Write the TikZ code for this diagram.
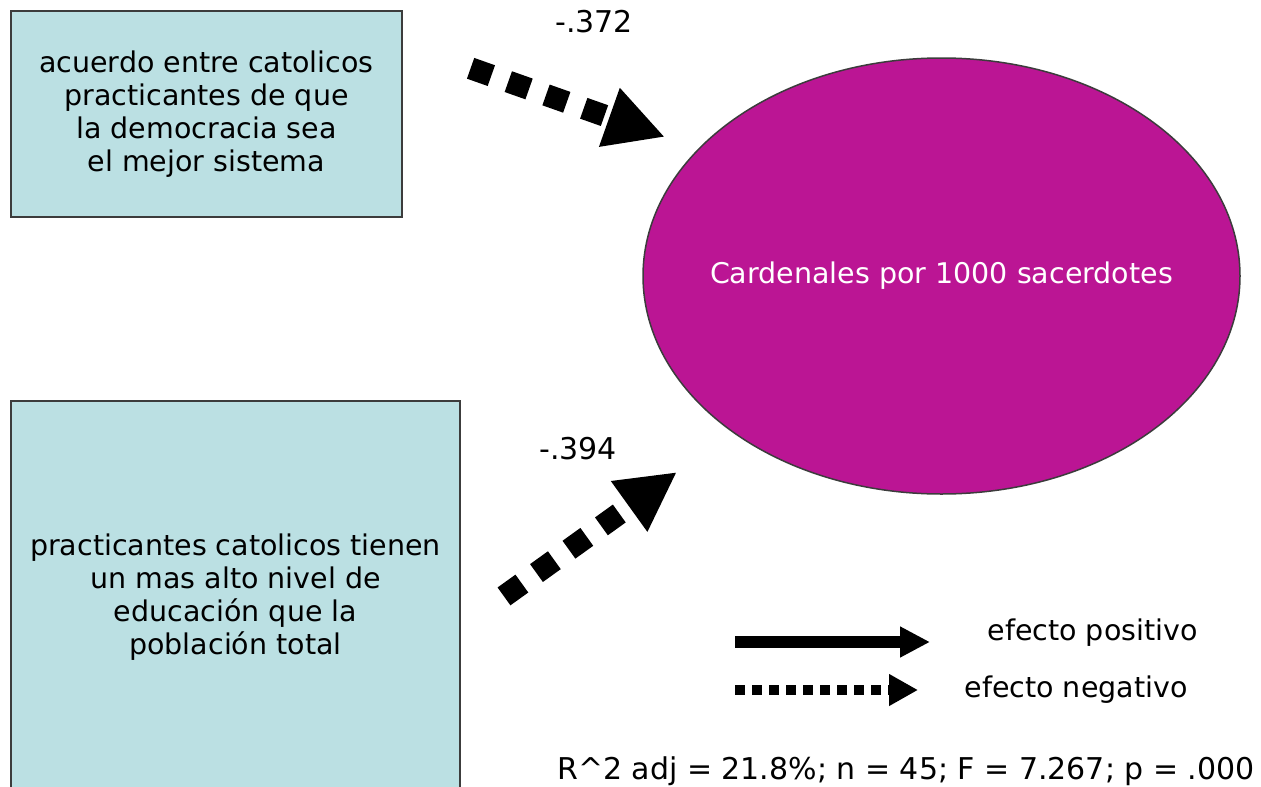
\documentclass[tikz,border=0pt]{standalone}
\usepackage{fontspec}
\setmainfont{DejaVu Sans}
\usepackage{xcolor}
\usetikzlibrary{arrows.meta,shapes.geometric}
\definecolor{boxblue}{RGB}{187,224,227}
\definecolor{cardmag}{RGB}{187,21,148}
\definecolor{rimgray}{RGB}{60,60,60}

\begin{document}
\begin{tikzpicture}[x=1pt, y=-1pt, >=Triangle,
    varbox/.style={draw=rimgray, line width=1.5pt, fill=boxblue, align=center,
        inner sep=0pt, font=\fontsize{28.5}{33}\selectfont},
    negarrow/.style={line width=22pt, dash pattern=on 22pt off 18pt,
        -{Triangle[length=59pt, width=58pt]}},
    lbl/.style={font=\fontsize{28.5}{33}\selectfont},
    numlbl/.style={font=\fontsize{30}{33}\selectfont}]
    \useasboundingbox (0,0) rectangle (1261,787);

    % Variable boxes
    \node[varbox, minimum width=391pt, minimum height=206pt] (acuerdo) at (206.5,114)
        {acuerdo entre catolicos\\practicantes de que\\la democracia sea\\el mejor sistema};
    \node[varbox, minimum width=449pt, minimum height=392pt] (educ) at (235.5,597)
        {practicantes catolicos tienen\\un mas alto nivel de\\educación que la\\población total};

    % Dependent variable
    \node[ellipse, draw=rimgray, line width=1.5pt, fill=cardmag, inner sep=0pt,
        minimum width=597pt, minimum height=436pt] (card) at (941.5,276) {};
    \node[lbl, text=white] (cardtxt) at (card.center) {Cardenales por 1000 sacerdotes};

    % Negative effects
    \coordinate (a1) at (470.6,68.3);
    \coordinate (t1) at (665,137);
    \coordinate (a2) at (504,596.4);
    \coordinate (t2) at (677,472);
    \draw[negarrow] (a1) -- (t1);
    \draw[negarrow] (a2) -- (t2);
    \node[numlbl] (b1) at (594,22) {-.372};
    \node[numlbl] (b2) at (578,449) {-.394};

    % Legend
    \coordinate (p0) at (735,642);
    \coordinate (p1) at (930,642);
    \coordinate (n0) at (735,690);
    \coordinate (n1) at (918,690);
    \draw[line width=12pt, -{Triangle[length=30pt, width=29pt]}] (p0) -- (p1);
    \draw[line width=10pt, dash pattern=on 10pt off 7pt,
        -{Triangle[length=29pt, width=30pt]}] (n0) -- (n1);
    \node[lbl, anchor=west] (pos) at (984,633) {efecto positivo};
    \node[lbl, anchor=west] (neg) at (961,690) {efecto negativo};

    % Fit statistics
    \node[numlbl, anchor=west, inner sep=0pt] (stats) at (557,771)
        {R\string^2 adj = 21.8\%; n = 45; F = 7.267; p = .000};
\end{tikzpicture}
\end{document}
